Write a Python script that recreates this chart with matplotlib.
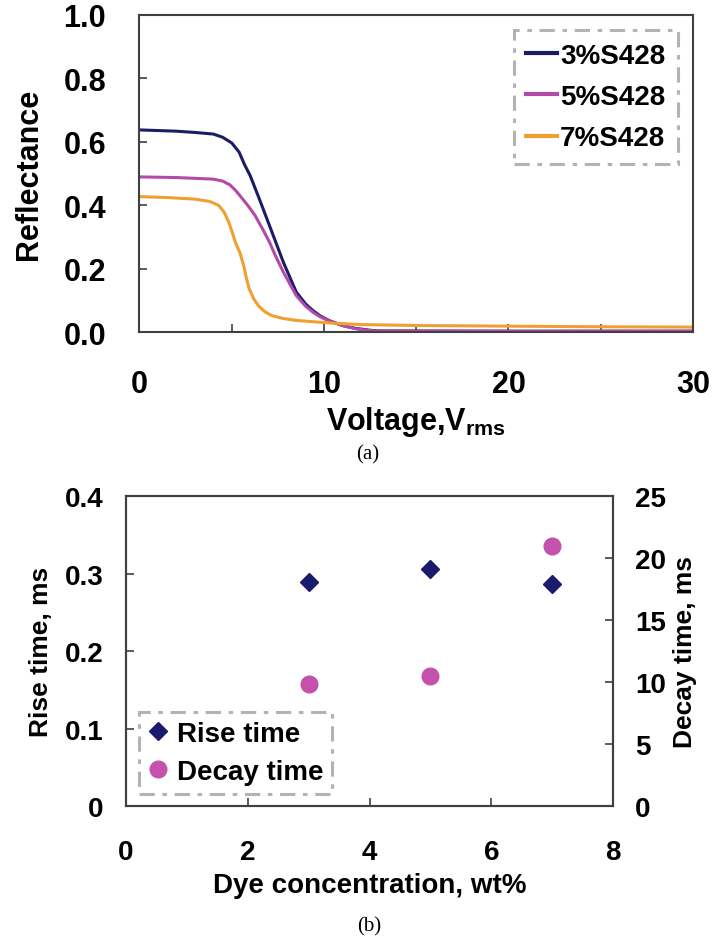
import matplotlib
matplotlib.use("Agg")
import matplotlib.pyplot as plt
from matplotlib.lines import Line2D

plt.rcParams['font.family'] = ['Liberation Sans', 'DejaVu Sans']
plt.rcParams['font.weight'] = 'bold'
plt.rcParams['axes.labelweight'] = 'bold'
plt.rcParams['mathtext.fontset'] = 'custom'
plt.rcParams['mathtext.rm'] = 'Liberation Sans:bold'
plt.rcParams['mathtext.bf'] = 'Liberation Sans:bold'

# (a) reflectance vs voltage
v_3 = [0, 2, 3, 4.0, 4.5, 5.0, 5.4, 5.7, 6.0, 6.5, 7.05, 7.8, 8.5, 9.0, 9.4, 9.8, 10.3, 11.0, 11.7, 12.5, 13, 20, 30]
r_3 = [0.638, 0.634, 0.63, 0.625, 0.615, 0.597, 0.568, 0.528, 0.494, 0.42, 0.336, 0.221, 0.127, 0.09,
       0.069, 0.052, 0.037, 0.022, 0.013, 0.007, 0.005, 0.004, 0.004]
v_5 = [0, 2, 4.0, 4.5, 4.9, 5.2, 5.5, 5.9, 6.27, 6.7, 7.05, 7.4, 7.8, 8.5, 9.0, 9.4, 9.8, 10.3, 11.0, 11.7, 12.5, 13, 20, 30]
r_5 = [0.49, 0.488, 0.483, 0.477, 0.465, 0.448, 0.427, 0.398, 0.368, 0.323, 0.284, 0.238, 0.19, 0.116,
       0.083, 0.064, 0.049, 0.036, 0.022, 0.012, 0.006, 0.004, 0.004, 0.004]
v_7 = [0, 1.5, 3.0, 3.8, 4.3, 4.6, 4.84, 5.0, 5.2, 5.45, 5.65, 5.8, 5.95, 6.2, 6.45, 6.8, 7.17, 7.8, 8.5,
       10.3, 12, 15, 20, 25, 30]
r_7 = [0.428, 0.425, 0.42, 0.413, 0.4, 0.378, 0.347, 0.32, 0.284, 0.25, 0.21, 0.17, 0.137, 0.105, 0.084,
       0.065, 0.053, 0.044, 0.038, 0.03, 0.025, 0.022, 0.02, 0.018, 0.017]

# (b) response times
dye = [3, 5, 7]
rise_ms = [0.289, 0.306, 0.287]
decay_ms = [9.85, 10.5, 21.0]

fig = plt.figure(figsize=(7.12, 9.45), dpi=100)

# ---- panel (a)
ax1 = fig.add_axes([0.1959, 0.6471, 0.7774, 0.336])
ax1.plot(v_3, r_3, color='#1c1c64', lw=2.2, label='3%S428')
ax1.plot(v_5, r_5, color='#b44aa8', lw=2.2, label='5%S428')
ax1.plot(v_7, r_7, color='#f0a030', lw=2.2, label='7%S428')
ax1.set_xlim(0, 30)
ax1.set_ylim(0, 1.0)
ax1.set_xticks([0, 10, 20, 30])
ax1.set_xticks([5, 15, 25], minor=True)
ax1.set_yticks([0, 0.2, 0.4, 0.6, 0.8, 1.0])
ax1.set_yticklabels(['0.0', '0.2', '0.4', '0.6', '0.8', '1.0'])
ax1.tick_params(axis='x', which='both', direction='in', length=6, width=1.2,
                color='#404040', labelsize=22, pad=26)
ax1.tick_params(axis='y', direction='in', length=6, width=1.2,
                color='#404040', labelsize=22, pad=24)
ax1.set_ylabel('Reflectance', fontsize=22, labelpad=14)
ax1.set_xlabel(r'Voltage,V$_{\rm rms}$', fontsize=22, labelpad=4)
for s in ax1.spines.values():
    s.set_color('#404040')
    s.set_linewidth(1.5)

leg1 = ax1.legend(loc='upper right', fontsize=20, frameon=True, fancybox=False,
                  handlelength=1.1, handletextpad=0.12, labelspacing=0.55,
                  borderpad=0.45, borderaxespad=0.55)
fr = leg1.get_frame()
fr.set_edgecolor('#a0a0a0')
fr.set_linewidth(2.2)
fr.set_linestyle((0, (5, 2.5, 1.5, 2.5)))
for ln in leg1.get_lines():
    ln.set_linewidth(3)

fig.text(0.516, 1 - 455 / 945, '(a)', fontsize=15, fontweight='normal',
         family='Liberation Serif', ha='center', va='center')

# ---- panel (b)
ax2 = fig.add_axes([0.177, 0.146, 0.684, 0.328])
ax3 = ax2.twinx()
ax2.plot(dye, rise_ms, linestyle='none', marker='D', ms=9, color='#1a1a6e', label='Rise time')
ax3.plot(dye, decay_ms, linestyle='none', marker='o', ms=12, color='#c452ac', label='Decay time')
ax2.set_xlim(0, 8)
ax2.set_ylim(0, 0.4)
ax3.set_ylim(0, 25)
ax2.set_xticks([0, 2, 4, 6, 8])
ax2.set_yticks([0, 0.1, 0.2, 0.3, 0.4])
ax2.set_yticklabels(['0', '0.1', '0.2', '0.3', '0.4'])
ax3.set_yticks([0, 5, 10, 15, 20, 25])
ax2.tick_params(axis='x', direction='in', length=6, width=1.2, color='#404040',
                labelsize=20, pad=24)
ax2.tick_params(axis='y', direction='in', length=6, width=1.2, color='#404040',
                labelsize=20, pad=16)
ax3.tick_params(axis='y', direction='in', length=6, width=1.2, color='#404040',
                labelsize=20, pad=16)
ax2.set_xlabel('Dye concentration, wt%', fontsize=20, labelpad=5)
ax2.set_ylabel('Rise time, ms', fontsize=19, labelpad=9)
ax3.set_ylabel('Decay time, ms', fontsize=19, labelpad=5)
for a in (ax2, ax3):
    for s in a.spines.values():
        s.set_color('#404040')
        s.set_linewidth(1.5)

handles = [Line2D([], [], linestyle='none', marker='D', ms=9, color='#1a1a6e'),
           Line2D([], [], linestyle='none', marker='o', ms=12, color='#c452ac')]
leg2 = ax3.legend(handles, ['Rise time', 'Decay time'], loc='lower left', fontsize=20,
                  frameon=True, fancybox=False, handlelength=0.8, handletextpad=0.3,
                  labelspacing=0.45, borderpad=0.3, borderaxespad=0.45)
fr2 = leg2.get_frame()
fr2.set_edgecolor('#a0a0a0')
fr2.set_linewidth(2.2)
fr2.set_linestyle((0, (5, 2.5, 1.5, 2.5)))

fig.text(369 / 712, 1 - 927 / 945, '(b)', fontsize=15, fontweight='normal',
         family='Liberation Serif', ha='center', va='center')

fig.savefig('out.png', dpi=100)
